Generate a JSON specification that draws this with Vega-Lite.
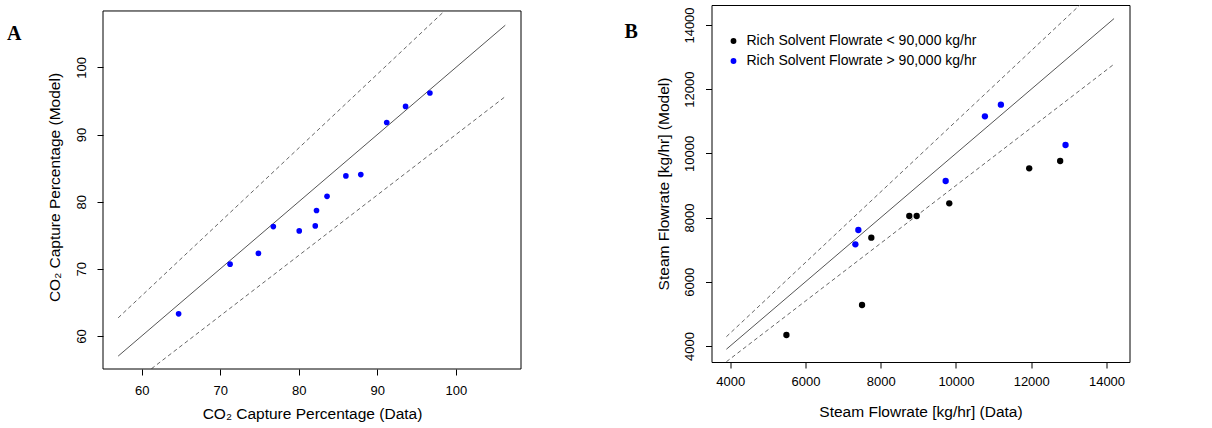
{
  "$schema": "https://vega.github.io/schema/vega-lite/v6.json",
  "padding": {"left": 7, "top": 4, "right": 5, "bottom": 5},
  "config": {
    "view": {"stroke": "black", "strokeWidth": 1},
    "font": "Liberation Sans",
    "axis": {"domain": false, "grid": false, "tickColor": "black", "tickSize": 6, "labelFont": "Liberation Sans", "labelFontSize": 13, "labelColor": "black", "titleFont": "Liberation Sans", "titleFontSize": 15.5, "titleFontWeight": "normal", "titleColor": "black"},
    "axisY": {"labelAngle": 270, "labelAlign": "center", "labelBaseline": "bottom"}
  },
  "resolve": {"scale": {"color": "independent"}, "legend": {"color": "independent"}},
  "columns": 2,
  "align": "none",
  "spacing": 101.5,
  "concat": [
    {
      "width": 418, "height": 364,
      "view": {"stroke": null},
      "title": {"text": "A", "orient": "top", "anchor": "start", "frame": "group", "font": "Liberation Serif", "fontSize": 20, "fontWeight": "bold", "color": "black", "align": "left", "baseline": "top", "dx": -96, "dy": 39.2, "offset": 0},
      "layer": [
        {
          "data": {"values": [
            {"x": 57, "y": 57, "line": "fit"}, {"x": 106.3, "y": 106.3, "line": "fit"},
            {"x": 57, "y": 62.7, "line": "hi"}, {"x": 98.56, "y": 108.42, "line": "hi"},
            {"x": 57, "y": 51.3, "line": "lo"}, {"x": 106.3, "y": 95.67, "line": "lo"}
          ]},
          "transform": [{"filter": "datum.line == 'fit'"}],
          "mark": {"type": "line", "color": "#555555", "strokeWidth": 1, "clip": true},
          "encoding": {
            "x": {"field": "x", "type": "quantitative", "scale": {"domain": [55.07, 108.3], "nice": false, "zero": false}, "axis": {"values": [60, 70, 80, 90, 100], "title": "CO₂ Capture Percentage (Data)", "labelPadding": 9, "titlePadding": 9.4}},
            "y": {"field": "y", "type": "quantitative", "scale": {"domain": [55.08, 109.31], "nice": false, "zero": false}, "axis": {"values": [60, 70, 80, 90, 100], "title": "CO₂ Capture Percentage (Model)", "labelPadding": 9, "titlePadding": 12.5}}
          }
        },
        {
          "data": {"values": [
            {"x": 57, "y": 57, "line": "fit"}, {"x": 106.3, "y": 106.3, "line": "fit"},
            {"x": 57, "y": 62.7, "line": "hi"}, {"x": 98.56, "y": 108.42, "line": "hi"},
            {"x": 57, "y": 51.3, "line": "lo"}, {"x": 106.3, "y": 95.67, "line": "lo"}
          ]},
          "transform": [{"filter": "datum.line != 'fit'"}],
          "mark": {"type": "line", "color": "#666666", "strokeWidth": 1, "strokeDash": [4, 3], "clip": true},
          "encoding": {
            "x": {"field": "x", "type": "quantitative"},
            "y": {"field": "y", "type": "quantitative"},
            "detail": {"field": "line"}
          }
        },
        {
          "data": {"values": [
            {"x": 64.7, "y": 63.3}, {"x": 71.25, "y": 70.7}, {"x": 74.86, "y": 72.3}, {"x": 76.76, "y": 76.3},
            {"x": 80.06, "y": 75.65}, {"x": 82.1, "y": 76.4}, {"x": 82.26, "y": 78.7}, {"x": 83.6, "y": 80.8},
            {"x": 86.0, "y": 83.85}, {"x": 87.9, "y": 84.05}, {"x": 91.2, "y": 91.8}, {"x": 93.6, "y": 94.2},
            {"x": 96.7, "y": 96.2}
          ]},
          "mark": {"type": "point", "filled": true, "size": 32, "color": "#0000ff", "opacity": 1},
          "encoding": {
            "x": {"field": "x", "type": "quantitative"},
            "y": {"field": "y", "type": "quantitative"}
          }
        },
        {
          "data": {"values": [{"frame": "box"}]},
          "mark": {"type": "rect", "filled": false, "fill": null, "stroke": "black", "strokeWidth": 1},
          "encoding": {
            "x": {"datum": 55.07, "type": "quantitative"},
            "x2": {"datum": 108.3},
            "y": {"datum": 55.08, "type": "quantitative"},
            "y2": {"datum": 108.42}
          }
        }
      ]
    },
    {
      "width": 418, "height": 357,
      "title": {"text": "B", "orient": "top", "anchor": "start", "frame": "group", "font": "Liberation Serif", "fontSize": 20, "fontWeight": "bold", "color": "black", "align": "left", "baseline": "top", "dx": -87, "dy": 36.5, "offset": 0},
      "layer": [
        {
          "data": {"values": [
            {"x": 3900, "y": 3900, "line": "fit"}, {"x": 14200, "y": 14200, "line": "fit"},
            {"x": 3900, "y": 4290, "line": "hi"}, {"x": 14200, "y": 15620, "line": "hi"},
            {"x": 3900, "y": 3510, "line": "lo"}, {"x": 14200, "y": 12780, "line": "lo"}
          ]},
          "transform": [{"filter": "datum.line == 'fit'"}],
          "mark": {"type": "line", "color": "#555555", "strokeWidth": 1, "clip": true},
          "encoding": {
            "x": {"field": "x", "type": "quantitative", "scale": {"domain": [3504, 14611], "nice": false, "zero": false}, "axis": {"values": [4000, 6000, 8000, 10000, 12000, 14000], "format": "d", "title": "Steam Flowrate [kg/hr] (Data)", "labelPadding": 7.6, "titlePadding": 16}},
            "y": {"field": "y", "type": "quantitative", "scale": {"domain": [3502, 14623], "nice": false, "zero": false}, "axis": {"values": [4000, 6000, 8000, 10000, 12000, 14000], "format": "d", "title": "Steam Flowrate [kg/hr] (Model)", "labelPadding": 9.3, "titlePadding": 12}}
          }
        },
        {
          "data": {"values": [
            {"x": 3900, "y": 3900, "line": "fit"}, {"x": 14200, "y": 14200, "line": "fit"},
            {"x": 3900, "y": 4290, "line": "hi"}, {"x": 14200, "y": 15620, "line": "hi"},
            {"x": 3900, "y": 3510, "line": "lo"}, {"x": 14200, "y": 12780, "line": "lo"}
          ]},
          "transform": [{"filter": "datum.line != 'fit'"}],
          "mark": {"type": "line", "color": "#666666", "strokeWidth": 1, "strokeDash": [4, 3], "clip": true},
          "encoding": {
            "x": {"field": "x", "type": "quantitative"},
            "y": {"field": "y", "type": "quantitative"},
            "detail": {"field": "line"}
          }
        },
        {
          "data": {"values": [
            {"x": 5495, "y": 4343, "group": "Rich Solvent Flowrate < 90,000 kg/hr"},
            {"x": 7504, "y": 5277, "group": "Rich Solvent Flowrate < 90,000 kg/hr"},
            {"x": 7751, "y": 7374, "group": "Rich Solvent Flowrate < 90,000 kg/hr"},
            {"x": 8760, "y": 8050, "group": "Rich Solvent Flowrate < 90,000 kg/hr"},
            {"x": 8956, "y": 8050, "group": "Rich Solvent Flowrate < 90,000 kg/hr"},
            {"x": 9822, "y": 8445, "group": "Rich Solvent Flowrate < 90,000 kg/hr"},
            {"x": 11946, "y": 9535, "group": "Rich Solvent Flowrate < 90,000 kg/hr"},
            {"x": 12769, "y": 9763, "group": "Rich Solvent Flowrate < 90,000 kg/hr"},
            {"x": 7327, "y": 7168, "group": "Rich Solvent Flowrate > 90,000 kg/hr"},
            {"x": 7406, "y": 7614, "group": "Rich Solvent Flowrate > 90,000 kg/hr"},
            {"x": 9726, "y": 9140, "group": "Rich Solvent Flowrate > 90,000 kg/hr"},
            {"x": 10769, "y": 11156, "group": "Rich Solvent Flowrate > 90,000 kg/hr"},
            {"x": 11194, "y": 11517, "group": "Rich Solvent Flowrate > 90,000 kg/hr"},
            {"x": 12911, "y": 10262, "group": "Rich Solvent Flowrate > 90,000 kg/hr"}
          ]},
          "mark": {"type": "point", "filled": true, "size": 40, "opacity": 1},
          "encoding": {
            "x": {"field": "x", "type": "quantitative"},
            "y": {"field": "y", "type": "quantitative"},
            "color": {"field": "group", "type": "nominal",
              "scale": {"domain": ["Rich Solvent Flowrate < 90,000 kg/hr", "Rich Solvent Flowrate > 90,000 kg/hr"], "range": ["#000000", "#0000ff"]},
              "legend": {"title": null, "orient": "none", "legendX": 15, "legendY": 29, "symbolType": "circle", "symbolSize": 34, "symbolStrokeWidth": 0, "labelFont": "Liberation Sans", "labelFontSize": 14, "labelColor": "black", "labelOffset": 6, "labelLimit": 0, "rowPadding": 6, "padding": 0}}
          }
        }
      ]
    }
  ]
}
